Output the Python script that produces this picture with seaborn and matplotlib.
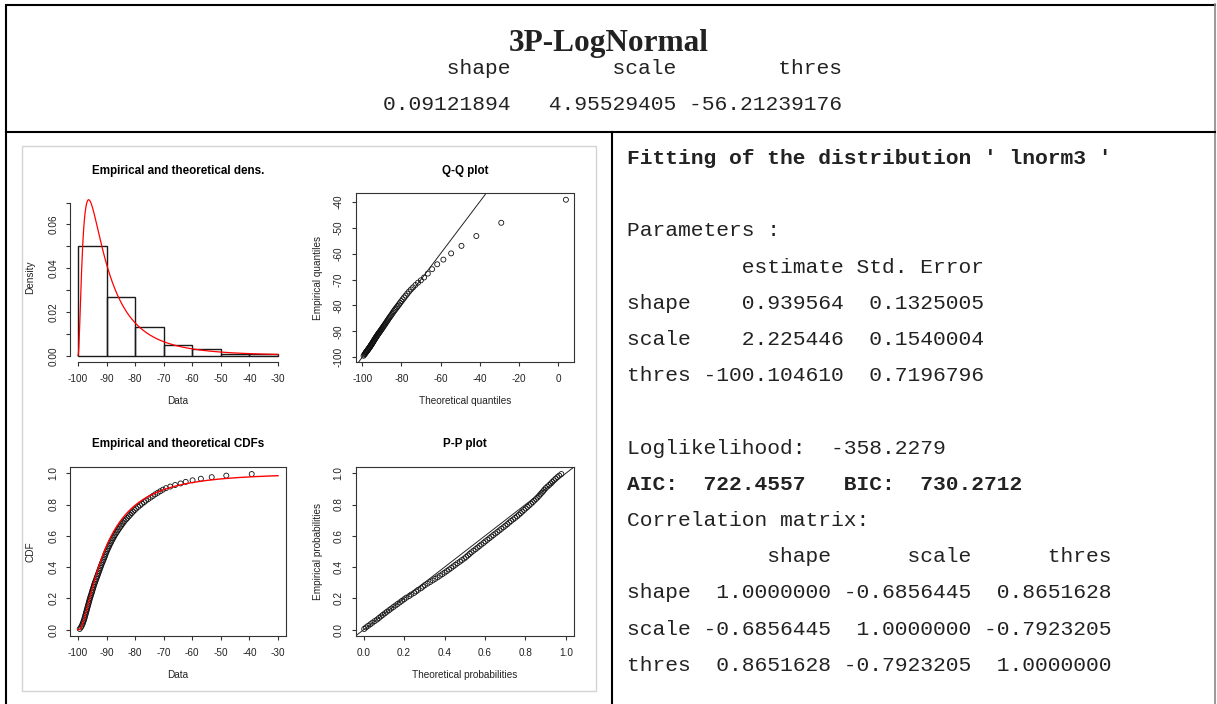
import math
from statistics import NormalDist

import numpy as np
import matplotlib
matplotlib.use("Agg")
import matplotlib.pyplot as plt
import seaborn as sns

W, H = 1217, 704
plt.rcParams["axes.unicode_minus"] = False

# fitted 3-parameter lognormal (values shown in the summary text)
fit_names = ["shape", "scale", "thres"]
fit_estimate = [0.939564, 2.225446, -100.104610]
fit_std_error = [0.1325005, 0.1540004, 0.7196796]
header_values = [0.09121894, 4.95529405, -56.21239176]
loglik = -358.2279
aic = 722.4557
bic = 730.2712
corr_matrix = [
    [1.0000000, -0.6856445, 0.8651628],
    [-0.6856445, 1.0000000, -0.7923205],
    [0.8651628, -0.7923205, 1.0000000],
]

sample = [
    -99.40, -99.00, -98.70, -98.45, -98.25, -98.05, -97.85, -97.70, -97.55, -97.40,
    -97.25, -97.10, -96.95, -96.80, -96.65, -96.50, -96.35, -96.20, -96.05, -95.90,
    -95.75, -95.55, -95.40, -95.20, -95.05, -94.90, -94.70, -94.55, -94.40, -94.20,
    -94.00, -93.80, -93.60, -93.40, -93.20, -93.00, -92.80, -92.60, -92.40, -92.20,
    -92.00, -91.80, -91.60, -91.35, -91.15, -90.90, -90.70, -90.50, -90.30, -90.10,
    -89.85, -89.60, -89.35, -89.10, -88.85, -88.55, -88.30, -88.00, -87.70, -87.40,
    -87.10, -86.75, -86.40, -86.05, -85.70, -85.30, -84.90, -84.50, -84.10, -83.70,
    -83.20, -82.70, -82.20, -81.70, -81.20, -80.70, -80.15, -79.60, -78.95, -78.30,
    -77.60, -76.90, -76.20, -75.40, -74.60, -73.80, -73.00, -72.10, -71.20, -70.30,
    -69.20, -67.70, -66.00, -64.10, -62.30, -59.90, -57.00, -53.20, -48.10, -39.20,
]
hist_breaks = [-100, -90, -80, -70, -60, -50, -40, -30]
data_ticks = [-100, -90, -80, -70, -60, -50, -40, -30]
dens_ticks = [0.00, 0.01, 0.02, 0.03, 0.04, 0.05, 0.06, 0.07]
dens_labels = ["0.00", "", "0.02", "", "0.04", "", "0.06", ""]
qq_xticks = [-100, -80, -60, -40, -20, 0]
qq_yticks = [-100, -90, -80, -70, -60, -50, -40]
prob_ticks = [0.0, 0.2, 0.4, 0.6, 0.8, 1.0]

# theoretical quantities from the fitted parameters
sdlog, meanlog, thres = fit_estimate
nd = NormalDist(mu=meanlog, sigma=sdlog)
x_sorted = np.sort(np.array(sample))
n = len(x_sorted)
obs_p = (np.arange(1, n + 1) - 0.5) / n
theo_q = np.array([thres + math.exp(nd.inv_cdf(p)) for p in obs_p])
theo_p = np.array([nd.cdf(math.log(v - thres)) for v in x_sorted])
grid = np.linspace(hist_breaks[0], hist_breaks[-1], 501)
pdf = np.array([nd.pdf(math.log(v - thres)) / (v - thres) for v in grid])
cdf = np.array([nd.cdf(math.log(v - thres)) for v in grid])

R_FONT = "Liberation Sans"
MONO = "Liberation Mono"
INK = "#222222"

fig = plt.figure(figsize=(W / 100, H / 100), dpi=100)
bg = fig.add_axes([0, 0, 1, 1])
bg.set_xlim(0, W)
bg.set_ylim(H, 0)
bg.axis("off")

# table borders
bg.plot([5, 1216], [5, 5], color="black", lw=1.5, solid_capstyle="butt")
bg.plot([6, 6], [4, H], color="black", lw=1.5, solid_capstyle="butt")
bg.plot([1215, 1215], [4, H], color="#888888", lw=1.2)
bg.plot([6, 1215], [132, 132], color="black", lw=1.5)
bg.plot([612, 612], [132, H], color="black", lw=1.5)
# frame of the embedded R figure
bg.add_patch(plt.Rectangle((22, 146), 574, 545, fill=False, ec="#d4d4d4", lw=1))

# header cell
bg.text(609, 51, "3P-LogNormal", family="Liberation Serif", weight="bold",
        fontsize=22.5, color=INK, ha="center", va="baseline")
hdr = "".join(f"{nm:>13}" for nm in fit_names)[3:]
vals = "".join(f"{v:>13.8f}" for v in header_values)[3:]
bg.text(383, 74, hdr, family=MONO, fontsize=15.3, color=INK, va="baseline")
bg.text(383, 110, vals, family=MONO, fontsize=15.3, color=INK, va="baseline")

# fit summary cell
lines = [
    ("Fitting of the distribution ' lnorm3 '", True),
    ("", False),
    ("Parameters :", False),
    ("         estimate Std. Error", False),
]
for nm, est, se in zip(fit_names, fit_estimate, fit_std_error):
    lines.append((f"{nm:<5} {est:>11.6f} {se:>10.7f}", False))
lines += [
    ("", False),
    (f"Loglikelihood:  {loglik}", False),
    (f"AIC:  {aic}   BIC:  {bic}", True),
    ("Correlation matrix:", False),
    ("     " + "".join(f"{nm:>11}" for nm in fit_names), False),
]
for nm, row in zip(fit_names, corr_matrix):
    lines.append((nm + "".join(f"{v:>11.7f}" for v in row), False))
for k, (txt, bold) in enumerate(lines):
    if txt:
        bg.text(627, 164 + 36.2 * k, txt, family=MONO, fontsize=15.3,
                weight="bold" if bold else "normal", color=INK, va="baseline")


def panel(x0, y0, x1, y1):
    return fig.add_axes([x0 / W, 1 - y1 / H, (x1 - x0) / W, (y1 - y0) / H])


def r_style(ax, title, title_y, xlabel, ylabel, ylab_x, box=True):
    for sp in ax.spines.values():
        sp.set_linewidth(0.8)
        sp.set_color("#333333")
        sp.set_visible(box)
    ax.tick_params(direction="out", length=3, width=0.8, color="#333333",
                   labelsize=7.2, labelcolor=INK, pad=5.5)
    ax.tick_params(axis="y", labelrotation=90)
    for lab in ax.get_yticklabels():
        lab.set_va("center")
    ax.set_xlabel(xlabel, fontsize=7.2, color=INK, family=R_FONT)
    ax.set_ylabel(ylabel, fontsize=7.2, color=INK, family=R_FONT)
    bb = ax.get_position()
    h_px = bb.height * H
    w_px = bb.width * W
    bottom_px = (1 - bb.y0) * H
    ax.xaxis.set_label_coords(0.5, -38.5 / h_px)
    ax.xaxis.label.set_va("center")
    ax.yaxis.set_label_coords((ylab_x - bb.x0 * W) / w_px, 0.5)
    ax.yaxis.label.set_va("center")
    ax.text(0.5, (bottom_px - title_y) / h_px, title, transform=ax.transAxes,
            ha="center", va="center", fontsize=8.4, weight="bold",
            color="black", family=R_FONT)
    for lab in ax.get_xticklabels() + ax.get_yticklabels():
        lab.set_family(R_FONT)


ext = 0.04 * (hist_breaks[-1] - hist_breaks[0])
pt_kw = dict(s=13, facecolor="none", edgecolor="#111111", linewidth=0.6)

# density comparison
ax1 = panel(70, 193.5, 286, 362)
sns.histplot(x=sample, bins=hist_breaks, stat="density", fill=False,
             color="#1a1a1a", linewidth=1.0, ax=ax1)
sns.lineplot(x=grid, y=pdf, color="red", linewidth=0.9, ax=ax1)
dens_hist, _ = np.histogram(sample, bins=hist_breaks, density=True)
ymax = max(pdf.max(), dens_hist.max())
ax1.set_xlim(hist_breaks[0] - ext, hist_breaks[-1] + ext)
ax1.set_ylim(-0.04 * ymax, 1.04 * ymax)
ax1.set_xticks(data_ticks)
ax1.set_yticks(dens_ticks)
ax1.set_yticklabels(dens_labels)
r_style(ax1, "Empirical and theoretical dens.", 171, "Data", "Density", 30.5, box=False)
ax1.spines["left"].set_visible(True)
ax1.spines["bottom"].set_visible(True)
ax1.spines["bottom"].set_bounds(data_ticks[0], data_ticks[-1])
ax1.spines["left"].set_bounds(dens_ticks[0], dens_ticks[-1])

# Q-Q plot
ax2 = panel(355.5, 193.5, 574, 362)
sns.scatterplot(x=theo_q, y=x_sorted, ax=ax2, **pt_kw)
ax2.axline((-100, -100), slope=1, color="#222222", lw=0.7)
xr = theo_q.max() - theo_q.min()
yr = x_sorted.max() - x_sorted.min()
ax2.set_xlim(theo_q.min() - 0.04 * xr, theo_q.max() + 0.04 * xr)
ax2.set_ylim(x_sorted.min() - 0.04 * yr, x_sorted.max() + 0.04 * yr)
ax2.set_xticks(qq_xticks)
ax2.set_yticks(qq_yticks)
r_style(ax2, "Q-Q plot", 171, "Theoretical quantiles", "Empirical quantiles", 318)

# CDF comparison
ax3 = panel(70, 467, 286, 636)
sns.scatterplot(x=x_sorted, y=obs_p, ax=ax3, **pt_kw)
sns.lineplot(x=grid, y=cdf, color="red", linewidth=1.0, ax=ax3)
ax3.set_xlim(hist_breaks[0] - ext, hist_breaks[-1] + ext)
ax3.set_ylim(-0.04, 1.04)
ax3.set_xticks(data_ticks)
ax3.set_yticks(prob_ticks)
ax3.set_yticklabels([f"{t:.1f}" for t in prob_ticks])
r_style(ax3, "Empirical and theoretical CDFs", 444, "Data", "CDF", 30.5)

# P-P plot
ax4 = panel(355.5, 467, 574, 636)
sns.scatterplot(x=theo_p, y=obs_p, ax=ax4, **pt_kw)
ax4.axline((0, 0), slope=1, color="#222222", lw=0.7)
ax4.set_xlim(-0.04, 1.04)
ax4.set_ylim(-0.04, 1.04)
ax4.set_xticks(prob_ticks)
ax4.set_xticklabels([f"{t:.1f}" for t in prob_ticks])
ax4.set_yticks(prob_ticks)
ax4.set_yticklabels([f"{t:.1f}" for t in prob_ticks])
r_style(ax4, "P-P plot", 444, "Theoretical probabilities", "Empirical probabilities", 318)

fig.savefig("out.png", dpi=100)
